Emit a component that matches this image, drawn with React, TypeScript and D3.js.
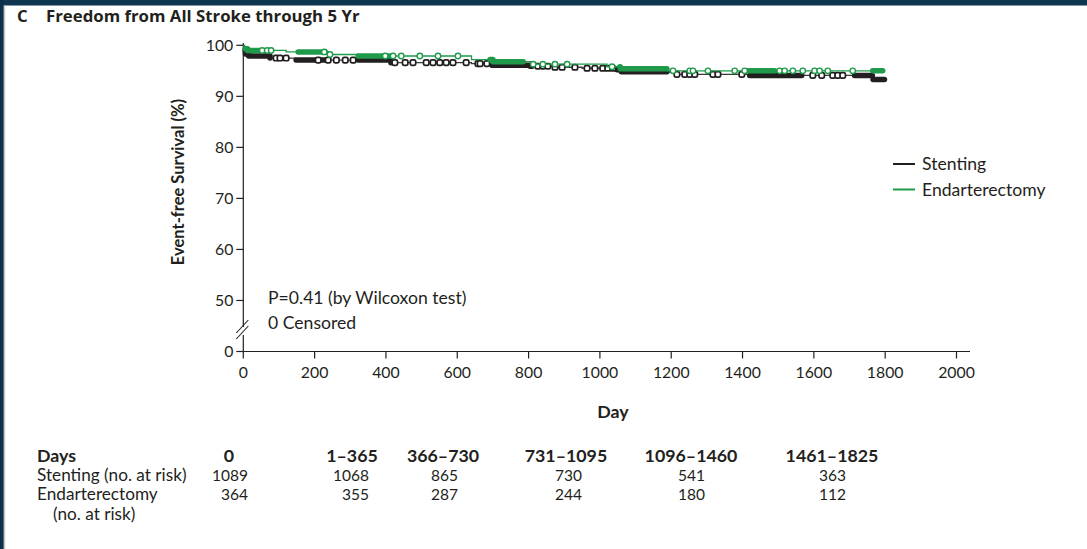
import React from "react";
import * as d3 from "d3";

const W = 1087;
const H = 549;

const titleLetter = "C";
const titleText = "Freedom from All Stroke through 5 Yr";
const xTicks = [0, 200, 400, 600, 800, 1000, 1200, 1400, 1600, 1800, 2000];
const yTicks = [100, 90, 80, 70, 60, 50];
const yBreakValue = 40; // position where the "0" label sits after the axis break
const yBreakLabel = "0";

// Kaplan-Meier steps: [day, event-free survival %]
const stentingSteps: [number, number][] = [
  [0, 100], [2, 99.0], [6, 98.3], [15, 97.9], [75, 97.5], [146, 97.1], [414, 96.6],
  [640, 96.4], [692, 96.1], [804, 95.9], [870, 95.7], [950, 95.5], [1040, 95.2],
  [1060, 94.8], [1216, 94.3], [1420, 94.1], [1765, 93.3], [1800, 93.3],
];
const endarterectomySteps: [number, number][] = [
  [0, 100], [4, 99.3], [12, 99.0], [120, 98.7], [240, 98.2], [320, 97.9], [640, 97.2],
  [700, 96.8], [810, 96.3], [1020, 95.8], [1057, 95.4], [1190, 95.0], [1800, 95.0],
];

// censored observations (single marks) and dense censoring clusters [from, to]
const stentingCensor = [
  92, 103, 120, 210, 238, 261, 286, 308, 425, 454, 476, 513, 532, 551, 569, 588, 625, 658,
  664, 683, 826, 840, 854, 874, 894, 930, 964, 986, 1008, 1022, 1036, 1216, 1238, 1252,
  1266, 1317, 1331, 1398, 1597, 1622, 1653, 1667, 1681,
];
const stentingBands: [number, number][] = [
  [5, 75], [148, 230], [322, 414], [697, 810], [1048, 1188], [1420, 1566], [1714, 1764], [1766, 1798],
];
const endarterectomyCensor = [
  53, 67, 78, 227, 243, 398, 420, 443, 495, 546, 602, 813, 840, 874, 908, 1034, 1205, 1252,
  1261, 1303, 1378, 1406, 1504, 1518, 1541, 1569, 1602, 1616, 1639, 1709,
];
const endarterectomyBands: [number, number][] = [
  [5, 45], [154, 230], [322, 414], [692, 785], [1056, 1188], [1412, 1490], [1765, 1793],
];

const legendLabels = ["Stenting", "Endarterectomy"];
const annotationLines = ["P=0.41 (by Wilcoxon test)", "0 Censored"];

// number-at-risk table
const tableHeader = "Days";
const tableColumns = ["0", "1\u2013365", "366\u2013730", "731\u20131095", "1096\u20131460", "1461\u20131825"];
const stentingAtRisk = [1089, 1068, 865, 730, 541, 363];
const endarterectomyAtRisk = [364, 355, 287, 244, 180, 112];
const rowLabels = ["Stenting (no. at risk)", "Endarterectomy", "(no. at risk)"];

const BLACK = "#231f20";
const LINE_BLACK = "#3a3a3a";
const GREEN = "#1f9a4b";
const FONT = "Lato, 'Noto Sans', sans-serif";
const TITLE_FONT = "'Open Sans', Lato, sans-serif";

const x = d3.scaleLinear().domain([0, 2000]).range([243.3, 956.5]);
const y = d3.scaleLinear().domain([yBreakValue, 100]).range([351.5, 45.3]);

function survivalAt(steps: [number, number][], t: number) {
  let v = steps[0][1];
  for (const [d, s] of steps) {
    if (d <= t) v = s;
    else break;
  }
  return v;
}

function segment(steps: [number, number][], a: number, b: number): [number, number][] {
  const pts: [number, number][] = [[a, survivalAt(steps, a)]];
  for (const [d, s] of steps) if (d > a && d < b) pts.push([d, s]);
  pts.push([b, survivalAt(steps, b)]);
  return pts;
}

const stepLine = d3
  .line<[number, number]>()
  .x((d) => x(d[0]))
  .y((d) => y(d[1]))
  .curve(d3.curveStepAfter);

function Curve({ steps, censor, bands, color, lineColor, square }: {
  steps: [number, number][]; censor: number[]; bands: [number, number][];
  color: string; lineColor: string; square: boolean;
}) {
  return (
    <g>
      <path d={stepLine(steps) || ""} fill="none" stroke={lineColor} strokeWidth={1.3} />
      {bands.map(([a, b], i) => (
        <path key={"b" + i} d={stepLine(segment(steps, a, b)) || ""} fill="none" stroke={color}
          strokeWidth={5.5} strokeLinecap="round" strokeLinejoin="round" />
      ))}
      {censor.map((t, i) => {
        const cx = x(t);
        const cy = y(survivalAt(steps, t));
        return square ? (
          <rect key={"c" + i} x={cx - 2.7} y={cy - 2.7} width={5.4} height={5.4} rx={1.8}
            fill="#fff" stroke={color} strokeWidth={1.7} />
        ) : (
          <circle key={"c" + i} cx={cx} cy={cy} r={2.7} fill="#fff" stroke={color} strokeWidth={1.4} />
        );
      })}
    </g>
  );
}

export default function App() {
  const colRight = [248, 369, 458, 582, 705, 846];
  const colCenter = [229, 352, 443, 566, 691, 832];
  const REG = 17.6;
  const BOLD = 17.8;
  return (
    <svg width={W} height={H} style={{ position: "absolute", left: 0, top: 0 }} fontFamily={FONT}>
      <rect x={0} y={0} width={W} height={H} fill="#fff" />
      <rect x={0} y={0} width={W} height={5.5} fill="#0f3550" />
      <rect x={0} y={0} width={3.8} height={H} fill="#0d3049" />
      <rect x={3.8} y={5.5} width={1.4} height={H} fill="#c9c9c9" />

      {/* title */}
      <text x={17} y={21.5} fontSize={16.8} fontWeight={700} fontFamily={TITLE_FONT} fill={BLACK}>{titleLetter}</text>
      <text x={46} y={21.5} fontSize={16.8} fontWeight={700} fontFamily={TITLE_FONT} fill={BLACK}>{titleText}</text>

      {/* y axis */}
      <line x1={x(0)} x2={x(0)} y1={43} y2={327} stroke={BLACK} strokeWidth={1.2} />
      <line x1={x(0)} x2={x(0)} y1={335} y2={y(yBreakValue)} stroke={BLACK} strokeWidth={1.2} />
      <line x1={x(0) - 7} x2={x(0) + 5} y1={333} y2={320} stroke={BLACK} strokeWidth={1.1} />
      <line x1={x(0) - 7} x2={x(0) + 5} y1={339} y2={326} stroke={BLACK} strokeWidth={1.1} />
      {yTicks.map((t) => (
        <g key={t}>
          <line x1={x(0) - 7} x2={x(0)} y1={y(t)} y2={y(t)} stroke={BLACK} strokeWidth={1.2} />
          <text x={x(0) - 10} y={y(t) + 5.5} fontSize={15.8} textAnchor="end" fill={BLACK}>{t}</text>
        </g>
      ))}
      <line x1={x(0) - 7} x2={x(0)} y1={y(yBreakValue)} y2={y(yBreakValue)} stroke={BLACK} strokeWidth={1.2} />
      <text x={x(0) - 10} y={y(yBreakValue) + 5.5} fontSize={15.8} textAnchor="end" fill={BLACK}>{yBreakLabel}</text>
      <text transform={`translate(184,182) rotate(-90)`} fontSize={16.5} fontWeight={700} textAnchor="middle" fill={BLACK}>
        Event-free Survival (%)
      </text>

      {/* x axis */}
      <line x1={x(0)} x2={970} y1={y(yBreakValue)} y2={y(yBreakValue)} stroke={BLACK} strokeWidth={1.2} />
      {xTicks.map((t) => (
        <g key={t}>
          <line x1={x(t)} x2={x(t)} y1={y(yBreakValue)} y2={y(yBreakValue) + 7} stroke={BLACK} strokeWidth={1.2} />
          <text x={x(t)} y={378} fontSize={15.8} textAnchor="middle" fill={BLACK}>{t}</text>
        </g>
      ))}
      <text x={613} y={418} fontSize={BOLD} fontWeight={700} textAnchor="middle" fill={BLACK}>Day</text>

      {/* curves */}
      <Curve steps={stentingSteps} censor={stentingCensor} bands={stentingBands} color={BLACK} lineColor={LINE_BLACK} square={true} />
      <Curve steps={endarterectomySteps} censor={endarterectomyCensor} bands={endarterectomyBands} color={GREEN} lineColor={GREEN} square={false} />

      {/* annotation */}
      {annotationLines.map((s, i) => (
        <text key={s} x={268} y={304 + i * 25} fontSize={REG} fill={BLACK}>{s}</text>
      ))}

      {/* legend */}
      {legendLabels.map((s, i) => (
        <g key={s}>
          <line x1={893} x2={915} y1={164 + i * 25.5} y2={164 + i * 25.5} stroke={i === 0 ? BLACK : GREEN} strokeWidth={2} />
          <text x={922} y={170 + i * 25.5} fontSize={REG} fill={BLACK}>{s}</text>
        </g>
      ))}

      {/* table */}
      <text x={37} y={462} fontSize={BOLD} fontWeight={700} fill={BLACK}>{tableHeader}</text>
      {tableColumns.map((c, i) => (
        <text key={c} x={colCenter[i]} y={462} fontSize={BOLD} fontWeight={700} textAnchor="middle" fill={BLACK}>{c}</text>
      ))}
      <text x={37} y={481} fontSize={17.2} fill={BLACK}>{rowLabels[0]}</text>
      <text x={37} y={500} fontSize={17.2} fill={BLACK}>{rowLabels[1]}</text>
      <text x={53} y={520} fontSize={17.2} fill={BLACK}>{rowLabels[2]}</text>
      {stentingAtRisk.map((v, i) => (
        <text key={"s" + i} x={colRight[i]} y={481} fontSize={15.5} textAnchor="end" fill={BLACK}>{v}</text>
      ))}
      {endarterectomyAtRisk.map((v, i) => (
        <text key={"e" + i} x={colRight[i]} y={500} fontSize={15.5} textAnchor="end" fill={BLACK}>{v}</text>
      ))}
    </svg>
  );
}
